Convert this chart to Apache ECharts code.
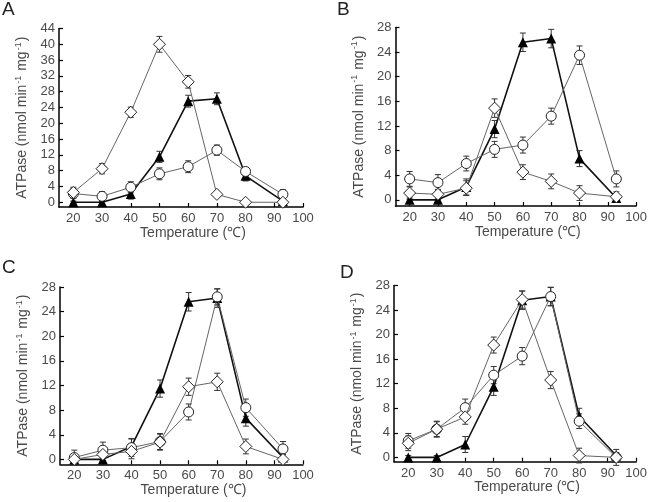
<!DOCTYPE html>
<html><head><meta charset="utf-8">
<script src="https://cdn.jsdelivr.net/npm/echarts@6/dist/echarts.min.js"></script>
<style>html,body{margin:0;padding:0;background:#fff}#c{width:650px;height:502px}</style>
</head><body><div id="c"></div>
<script>
// ---- data ----
const temps = [20, 30, 40, 50, 60, 70, 80, 93];
const xTicks = [20, 30, 40, 50, 60, 70, 80, 90, 100];
const yTicksA = [0, 4, 8, 12, 16, 20, 24, 28, 32, 36, 40, 44];
const yTicksBCD = [0, 4, 8, 12, 16, 20, 24, 28];

// filled triangles (same in all panels)
const triVals = [0, 0, 2.1, 11.5, 25.6, 26.2, 6.7, 0.3];
const triErr  = [0.3, 0.3, 1.3, 1.4, 1.5, 1.5, 1.3, 0.5];

const A_circle = [2.2, 1.5, 3.8, 7.2, 9.0, 13.2, 7.8, 2.0];
const A_circleErr = [1.2, 1.2, 1.4, 1.5, 1.5, 1.3, 1.0, 1.2];
const A_diamond = [2.5, 8.5, 22.8, 40.0, 30.5, 2.0, 0, 0];
const A_diamondErr = [1.3, 1.3, 1.3, 2.0, 1.6, 0.5, 0.3, 0.3];

const B_circle = [3.4, 2.8, 5.9, 8.2, 8.9, 13.6, 23.5, 3.4];
const B_circleErr = [1.2, 1.3, 1.2, 1.3, 1.3, 1.3, 1.5, 1.3];
const B_diamond = [1.1, 0.9, 1.9, 14.9, 4.5, 3.0, 1.1, 0.5];
const B_diamondErr = [1.0, 0.8, 1.2, 1.5, 1.2, 1.2, 1.2, 0.8];

const C_circle = [0.3, 1.5, 1.9, 2.9, 7.7, 26.4, 8.4, 1.7];
const C_circleErr = [1.2, 1.3, 1.4, 1.3, 1.3, 1.3, 1.4, 1.2];
const C_diamond = [0, 0.8, 1.3, 2.8, 11.8, 12.6, 2.1, 0];
const C_diamondErr = [0.5, 1.0, 1.2, 1.3, 1.4, 1.4, 1.2, 0.3];

const D_circle = [2.7, 4.6, 8.1, 13.4, 16.5, 26.2, 5.9, 0];
const D_circleErr = [1.2, 1.3, 1.4, 1.4, 1.4, 1.5, 1.2, 1.3];
const D_diamond = [2.3, 4.6, 6.6, 18.3, 25.7, 12.6, 0.3, 0];
const D_diamondErr = [1.2, 1.2, 1.2, 1.3, 1.4, 1.4, 1.2, 0.5];

const panelLabels = ['A', 'B', 'C', 'D'];
const xName = 'Temperature (\u2103)';

// ---- layout ----
const layout = [
  {grid: {left: 59, top: 28.5, width: 244, height: 178.5}, ymin: -1.2, ymax: 44, yticks: yTicksA, lab: [2, 0],
   circle: A_circle, circleErr: A_circleErr, diamond: A_diamond, diamondErr: A_diamondErr},
  {grid: {left: 395.5, top: 27.5, width: 241.5, height: 178.5}, ymin: -1, ymax: 28, yticks: yTicksBCD, lab: [337, 0],
   circle: B_circle, circleErr: B_circleErr, diamond: B_diamond, diamondErr: B_diamondErr},
  {grid: {left: 60, top: 287, width: 243, height: 177.3}, ymin: -0.8, ymax: 28, yticks: yTicksBCD, lab: [2, 258],
   circle: C_circle, circleErr: C_circleErr, diamond: C_diamond, diamondErr: C_diamondErr},
  {grid: {left: 394, top: 285.5, width: 245, height: 176.2}, ymin: -0.7, ymax: 28, yticks: yTicksBCD, lab: [340, 263],
   circle: D_circle, circleErr: D_circleErr, diamond: D_diamond, diamondErr: D_diamondErr}
];

const textColor = '#4a4a4a';
const font = 'Liberation Sans, Arial, sans-serif';

function errRender(params, api) {
  const x = api.value(0), lo = api.value(1), hi = api.value(2);
  const p1 = api.coord([x, lo]), p2 = api.coord([x, hi]);
  const w = 3;
  const st = {stroke: '#333', lineWidth: 1};
  return {type: 'group', children: [
    {type: 'line', shape: {x1: p1[0], y1: p1[1], x2: p2[0], y2: p2[1]}, style: st},
    {type: 'line', shape: {x1: p1[0] - w, y1: p1[1], x2: p1[0] + w, y2: p1[1]}, style: st},
    {type: 'line', shape: {x1: p2[0] - w, y1: p2[1], x2: p2[0] + w, y2: p2[1]}, style: st}
  ]};
}
function errData(v, e) { return temps.map((t, i) => [t, v[i] - e[i], v[i] + e[i]]); }
function ptData(v) { return temps.map((t, i) => [t, v[i]]); }

const grids = [], xAxes = [], yAxes = [], series = [], graphics = [];
layout.forEach((p, k) => {
  grids.push(Object.assign({containLabel: false}, p.grid));
  xAxes.push({
    type: 'value', gridIndex: k, min: 15, max: 100,
    name: xName, nameLocation: 'middle', nameGap: 16,
    nameTextStyle: {fontSize: 14, color: textColor, fontFamily: font, padding: [0, 0, 0, 24]},
    axisLine: {show: true, onZero: false, lineStyle: {color: '#000', width: 1.5}},
    axisTick: {show: true, inside: true, length: 4, customValues: xTicks, lineStyle: {color: '#000', width: 1.2}},
    axisLabel: {customValues: xTicks, margin: 5, fontSize: 13, color: textColor, fontFamily: font},
    splitLine: {show: false}
  });
  yAxes.push({
    type: 'value', gridIndex: k, min: p.ymin, max: p.ymax,
    name: 'ATPase (nmol min{sup|-1} mg{sup|-1})', nameLocation: 'middle', nameGap: 28, nameRotate: 90,
    nameTextStyle: {fontSize: 14, color: textColor, fontFamily: font,
      rich: {sup: {fontSize: 9, color: textColor, fontFamily: font, padding: [0, 1, 8, 1]}}},
    axisLine: {show: true, onZero: false, lineStyle: {color: '#000', width: 1.5}},
    axisTick: {show: true, inside: true, length: 4, customValues: p.yticks, lineStyle: {color: '#000', width: 1.2}},
    axisLabel: {customValues: p.yticks, margin: 4, fontSize: 13, color: textColor, fontFamily: font},
    splitLine: {show: false}
  });
  const common = {xAxisIndex: k, yAxisIndex: k};
  [[triVals, triErr], [p.circle, p.circleErr], [p.diamond, p.diamondErr]].forEach(([v, e]) => {
    series.push(Object.assign({type: 'custom', renderItem: errRender, data: errData(v, e),
      encode: {x: 0, y: [1, 2]}, z: 1, silent: true, clip: false}, common));
  });
  series.push(Object.assign({type: 'line', data: ptData(triVals), symbol: 'triangle', symbolSize: 10,
    itemStyle: {color: '#000'}, lineStyle: {color: '#111', width: 1.6}, z: 3}, common));
  series.push(Object.assign({type: 'line', data: ptData(p.circle), symbol: 'circle', symbolSize: 10,
    itemStyle: {color: '#fff', borderColor: '#222', borderWidth: 1}, lineStyle: {color: '#666', width: 1}, z: 4}, common));
  series.push(Object.assign({type: 'line', data: ptData(p.diamond), symbol: 'diamond', symbolSize: 12,
    itemStyle: {color: '#fff', borderColor: '#222', borderWidth: 1}, lineStyle: {color: '#666', width: 1}, z: 5}, common));
  graphics.push({type: 'text', left: p.lab[0], top: p.lab[1],
    style: {text: panelLabels[k], fontSize: 19, fill: '#222', fontFamily: font}});
});

const chart = echarts.init(document.getElementById('c'), null, {renderer: 'canvas'});
chart.setOption({
  animation: false,
  backgroundColor: '#fff',
  grid: grids, xAxis: xAxes, yAxis: yAxes, series: series, graphic: graphics
});
</script>
</body></html>
